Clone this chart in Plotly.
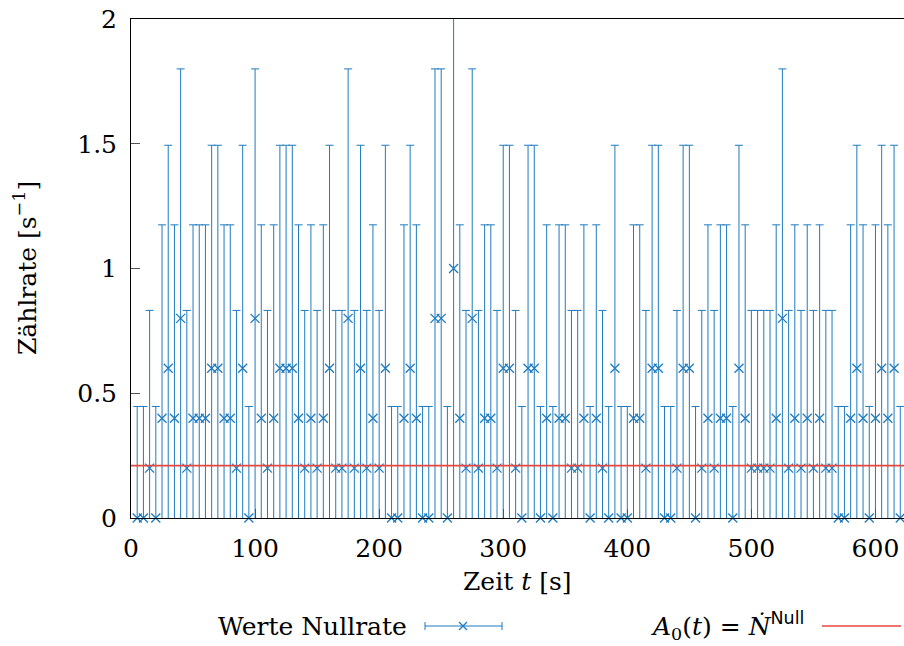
import plotly.graph_objects as go

# Measurement times (s), one count window every 5 s
TIME_S = [
    5, 10, 15, 20, 25, 30, 35, 40, 45, 50, 55, 60, 65, 70, 75, 80, 85, 90, 95, 100,
    105, 110, 115, 120, 125, 130, 135, 140, 145, 150, 155, 160, 165, 170, 175, 180, 185, 190, 195, 200,
    205, 210, 215, 220, 225, 230, 235, 240, 245, 250, 255, 260, 265, 270, 275, 280, 285, 290, 295, 300,
    305, 310, 315, 320, 325, 330, 335, 340, 345, 350, 355, 360, 365, 370, 375, 380, 385, 390, 395, 400,
    405, 410, 415, 420, 425, 430, 435, 440, 445, 450, 455, 460, 465, 470, 475, 480, 485, 490, 495, 500,
    505, 510, 515, 520, 525, 530, 535, 540, 545, 550, 555, 560, 565, 570, 575, 580, 585, 590, 595, 600,
    605, 610, 615, 620,
]

# Measured background count rate (1/s)
RATE = [
    0.0, 0.0, 0.2, 0.0, 0.4, 0.6, 0.4, 0.8, 0.2, 0.4, 0.4, 0.4, 0.6, 0.6, 0.4, 0.4, 0.2, 0.6, 0.0, 0.8,
    0.4, 0.2, 0.4, 0.6, 0.6, 0.6, 0.4, 0.2, 0.4, 0.2, 0.4, 0.6, 0.2, 0.2, 0.8, 0.2, 0.6, 0.2, 0.4, 0.2,
    0.6, 0.0, 0.0, 0.4, 0.6, 0.4, 0.0, 0.0, 0.8, 0.8, 0.0, 1.0, 0.4, 0.2, 0.8, 0.2, 0.4, 0.4, 0.2, 0.6,
    0.6, 0.2, 0.0, 0.6, 0.6, 0.0, 0.4, 0.0, 0.4, 0.4, 0.2, 0.2, 0.4, 0.0, 0.4, 0.2, 0.0, 0.6, 0.0, 0.0,
    0.4, 0.4, 0.2, 0.6, 0.6, 0.0, 0.0, 0.2, 0.6, 0.6, 0.0, 0.2, 0.4, 0.2, 0.4, 0.4, 0.0, 0.6, 0.4, 0.2,
    0.2, 0.2, 0.2, 0.4, 0.8, 0.2, 0.4, 0.2, 0.4, 0.2, 0.4, 0.2, 0.2, 0.0, 0.0, 0.4, 0.6, 0.4, 0.0, 0.4,
    0.6, 0.4, 0.6, 0.0,
]

# Half-width of the error bar for each rate level (1/s)
ERR_BY_RATE = {0.0: 0.447, 0.2: 0.632, 0.4: 0.775, 0.6: 0.894, 0.8: 1.0, 1.0: 1.095}

# Mean background rate A_0 (1/s)
A0 = 0.21

X_TICKS = [0, 100, 200, 300, 400, 500, 600]
Y_TICKS = [0, 0.5, 1, 1.5, 2]
Y_TICK_TEXT = ["0", "0.5", "1", "1.5", "2"]

BLUE = "#1f7bbf"
RED = "#e5483c"
FONT = "DejaVu Serif"
FS = 25

W, H = 904, 646
L, R, T, B = 131, 0, 19, 128

err = [ERR_BY_RATE[round(v, 1)] for v in RATE]


def px_x(px):
    return (px - L) / (W - L - R)


def px_y(py):
    return (H - B - py) / (H - T - B)


fig = go.Figure()

# error bars (clipped at the plot frame)
fig.add_trace(go.Scatter(
    x=TIME_S, y=RATE, mode="markers",
    marker=dict(size=1, opacity=0),
    error_y=dict(type="data", array=err, symmetric=True, color=BLUE,
                 thickness=1, width=4),
    cliponaxis=True, showlegend=False, hoverinfo="skip",
))
# point markers
fig.add_trace(go.Scatter(
    x=TIME_S, y=RATE, mode="markers",
    marker=dict(symbol="x-thin", size=9, color=BLUE,
                line=dict(width=1.3, color=BLUE)),
    cliponaxis=False, showlegend=False,
))
# constant background rate
fig.add_trace(go.Scatter(
    x=[0, 623], y=[A0, A0], mode="lines",
    line=dict(color=RED, width=1.6),
    showlegend=False,
))

axis_common = dict(
    showline=True, linecolor="black", linewidth=1,
    ticks="inside", ticklen=9, tickcolor="#555", tickwidth=1,
    showgrid=False, zeroline=False,
    tickfont=dict(family=FONT, size=FS, color="black"),
)

fig.update_layout(
    width=W, height=H,
    margin=dict(l=L, r=R, t=T, b=B),
    paper_bgcolor="white", plot_bgcolor="white",
    xaxis=dict(range=[0, 623], tickvals=X_TICKS, mirror=True,
               ticklabelstandoff=8, **axis_common),
    yaxis=dict(range=[0, 2], tickvals=Y_TICKS, ticktext=Y_TICK_TEXT,
               mirror=False, ticklabelstandoff=8, **axis_common),
    font=dict(family=FONT, size=FS, color="black"),
    showlegend=False,
)

annotations = [
    dict(text="Zeit <i>t</i> [s]", x=0.5, y=px_y(581), xref="paper", yref="paper",
         xanchor="center", yanchor="middle", showarrow=False),
    dict(text="Zählrate [s<sup>−1</sup>]", x=px_x(25), y=px_y(268), xref="paper",
         yref="paper", xanchor="center", yanchor="middle", textangle=-90,
         showarrow=False),
    dict(text="Werte Nullrate", x=px_x(409), y=px_y(626), xref="paper", yref="paper",
         xanchor="right", yanchor="middle", showarrow=False),
    dict(text="<i>A</i><sub>0</sub>(<i>t</i>) = <i>Ṅ</i>"
              "<sup><span style=\"font-family:'DejaVu Sans'\">Null</span></sup>",
         x=px_x(806), y=px_y(626), xref="paper", yref="paper",
         xanchor="right", yanchor="middle", showarrow=False),
]

shapes = []
# legend glyph: horizontal error bar with marker
ly = 626
shapes.append(dict(type="line", xref="paper", yref="paper",
                   x0=px_x(425), x1=px_x(502), y0=px_y(ly), y1=px_y(ly),
                   line=dict(color=BLUE, width=1)))
for cx in (425, 502):
    shapes.append(dict(type="line", xref="paper", yref="paper",
                       x0=px_x(cx), x1=px_x(cx), y0=px_y(ly - 4), y1=px_y(ly + 4),
                       line=dict(color=BLUE, width=1)))
mx = 463
for d in (-1, 1):
    shapes.append(dict(type="line", xref="paper", yref="paper",
                       x0=px_x(mx - 4), x1=px_x(mx + 4),
                       y0=px_y(ly - 4 * d), y1=px_y(ly + 4 * d),
                       line=dict(color=BLUE, width=1.3)))
# legend glyph: red line
shapes.append(dict(type="line", xref="paper", yref="paper",
                   x0=px_x(822), x1=px_x(901), y0=px_y(ly), y1=px_y(ly),
                   line=dict(color=RED, width=1.6)))

fig.update_layout(annotations=annotations, shapes=shapes)

fig.write_html("out.html")
